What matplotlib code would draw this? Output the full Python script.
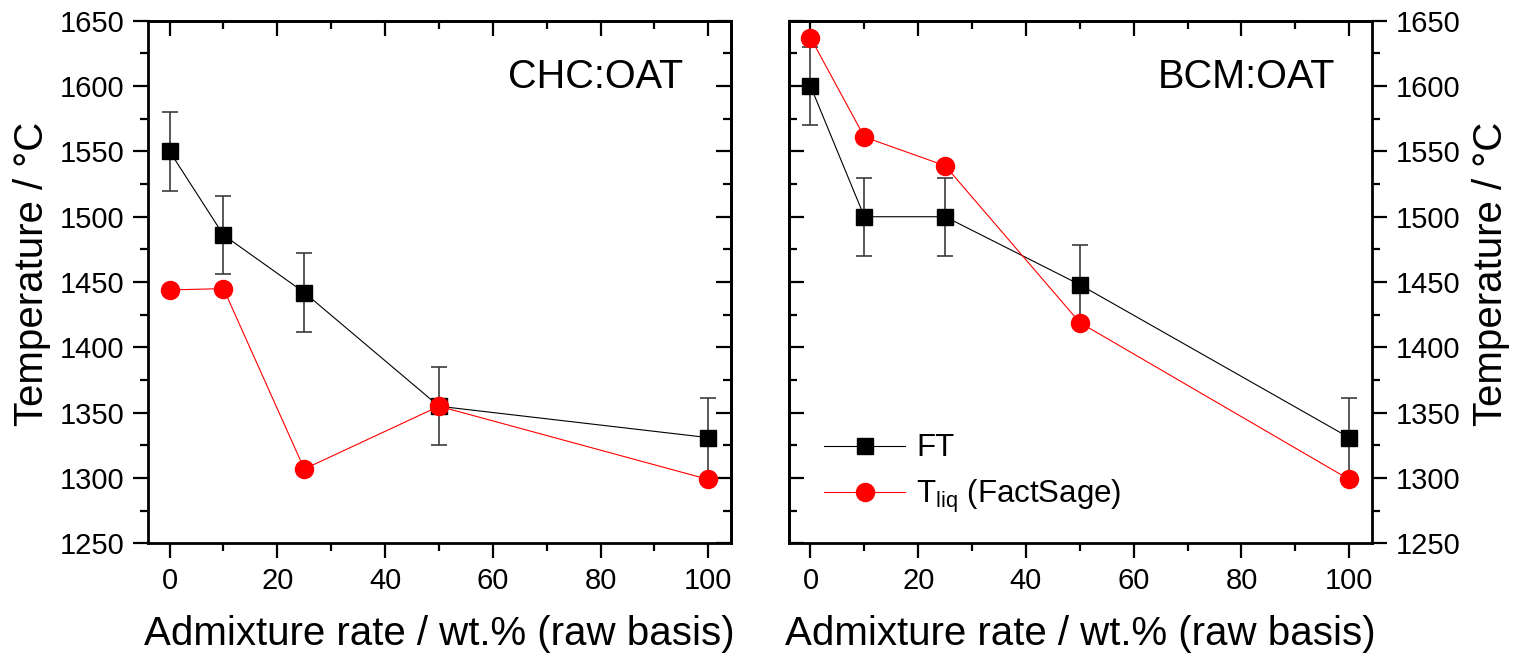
import matplotlib
matplotlib.use('Agg')
import matplotlib.pyplot as plt
from matplotlib.ticker import MultipleLocator

plt.rcParams['font.family'] = ['Liberation Sans', 'DejaVu Sans']
plt.rcParams['mathtext.fontset'] = 'custom'
plt.rcParams['mathtext.rm'] = 'Liberation Sans'
plt.rcParams['mathtext.it'] = 'Liberation Sans:italic'

# admixture rates (wt.%, raw basis)
rate = [0, 10, 25, 50, 100]

# CHC:OAT
chc_ft = [1550, 1486, 1442, 1355, 1331]
chc_tliq = [1444, 1445, 1307, 1355, 1299]

# BCM:OAT
bcm_ft = [1600, 1500, 1500, 1448, 1331]
bcm_tliq = [1637, 1561, 1539, 1419, 1299]

ft_err = [30, 30, 30, 30, 30]

fig = plt.figure(figsize=(15.14, 6.56), dpi=100)
ax1 = fig.add_axes([0.0978, 0.1715, 0.385, 0.797])
ax2 = fig.add_axes([0.5211, 0.1715, 0.385, 0.797])


def style_axes(ax, label_side):
    ax.set_xlim(-4, 104.2)
    ax.set_ylim(1250, 1650)
    ax.xaxis.set_major_locator(MultipleLocator(20))
    ax.xaxis.set_minor_locator(MultipleLocator(10))
    ax.yaxis.set_major_locator(MultipleLocator(50))
    ax.yaxis.set_minor_locator(MultipleLocator(25))
    for s in ax.spines.values():
        s.set_linewidth(2)
    ax.tick_params(which='major', length=11, width=1.6, labelsize=21, pad=6)
    ax.tick_params(which='minor', length=5.5, width=1.6)
    ax.tick_params(axis='both', which='both', direction='out')
    if label_side == 'right':
        ax.yaxis.tick_right()
        ax.yaxis.set_label_position('right')

    # mirrored ticks pointing inward on the opposite sides
    top = ax.secondary_xaxis('top')
    top.xaxis.set_major_locator(MultipleLocator(20))
    top.xaxis.set_minor_locator(MultipleLocator(10))
    top.tick_params(which='major', direction='in', length=11, width=1.6, labeltop=False)
    top.tick_params(which='minor', direction='in', length=5.5, width=1.6)
    top.spines['top'].set_linewidth(2)

    other = 'left' if label_side == 'right' else 'right'
    side = ax.secondary_yaxis(other)
    side.yaxis.set_major_locator(MultipleLocator(50))
    side.yaxis.set_minor_locator(MultipleLocator(25))
    side.tick_params(which='major', direction='in', length=11, width=1.6,
                     labelleft=False, labelright=False)
    side.tick_params(which='minor', direction='in', length=5.5, width=1.6)
    side.spines[other].set_linewidth(2)

    ax.set_xlabel('Admixture rate / wt.% (raw basis)', fontsize=29, labelpad=14)
    ax.set_ylabel('Temperature / °C', fontsize=29)


def draw(ax, ft, tliq):
    ax.errorbar(rate, ft, yerr=ft_err, fmt='none', ecolor='#3c3c3c',
                elinewidth=1.2, capsize=5.8, capthick=1.2, zorder=2)
    ax.plot(rate, ft, color='black', lw=0.8, marker='s', ms=11.5,
            mfc='black', mec='black', label='FT', zorder=3)
    ax.plot(rate, tliq, color='red', lw=0.8, marker='o', ms=13,
            mfc='red', mec='red', label=r'T$_{\mathregular{liq}}$ (FactSage)', zorder=4)


draw(ax1, chc_ft, chc_tliq)
draw(ax2, bcm_ft, bcm_tliq)

style_axes(ax1, 'left')
style_axes(ax2, 'right')
ax1.yaxis.set_label_coords(-0.166, 0.515)
ax2.yaxis.set_label_coords(1.171, 0.515)

ax1.text(0.918, 0.871, 'CHC:OAT', transform=ax1.transAxes, fontsize=28.5,
         ha='right', va='baseline')
ax2.text(0.937, 0.871, 'BCM:OAT', transform=ax2.transAxes, fontsize=28.5,
         ha='right', va='baseline')

ax2.legend(loc='lower left', bbox_to_anchor=(0.06, 0.055), frameon=False,
           fontsize=22.5, handlelength=2.6, handletextpad=0.35,
           labelspacing=0.45, borderpad=0, borderaxespad=0)

fig.savefig('out.png', dpi=100)
